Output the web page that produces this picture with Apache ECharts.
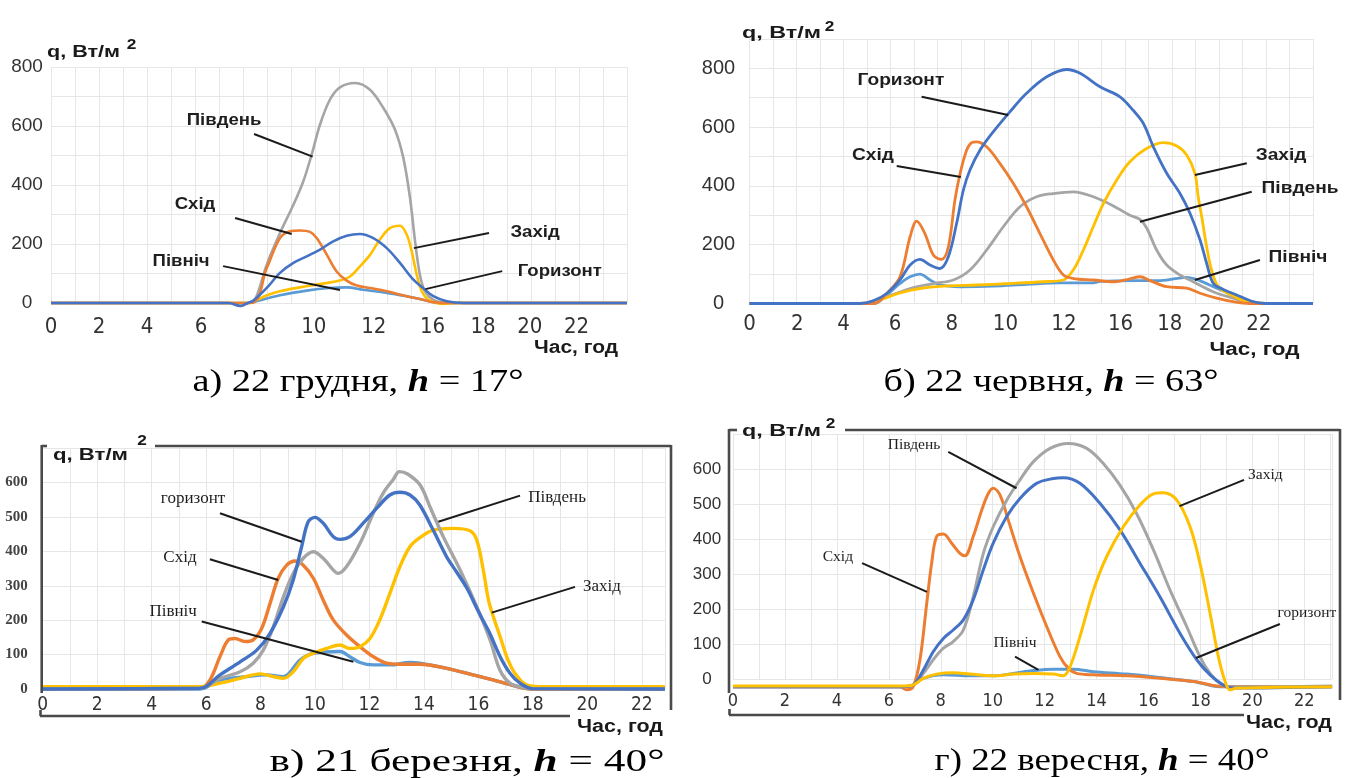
<!DOCTYPE html>
<html><head><meta charset="utf-8">
<script src="https://cdn.jsdelivr.net/npm/echarts@6/dist/echarts.min.js"></script>
<style>html,body{margin:0;padding:0;background:#fff}#c{width:1346px;height:778px}</style>
</head><body><div id="c"></div>
<script>
// ---------- tick labels ----------
const AB_X_LABELS = ['0','2','4','6','8','10','12','16','18','20','22'];
const A_X_LABEL_AT = [0,2,4,6.25,8.7,10.95,13.45,15.9,18,19.95,21.9];
const B_X_LABEL_AT = [0,2.04,4.01,6.2,8.62,10.9,13.39,15.8,17.9,19.68,21.69];

// ---------- a) 22 December ----------
const A_SOUTH = [[0,0],[7.4,0],[7.9,-10],[8.2,0],[8.5,11],[8.99,130],[9.54,237],[10.1,333],[10.51,412],[10.86,503],[11.21,605],[11.62,689],[12.04,731],[12.67,746],[13.29,723],[13.85,661],[14.33,588],[14.68,492],[14.96,356],[15.17,209],[15.37,96],[15.58,40],[15.93,11],[16.35,2],[17,0],[24,0]];
const A_EAST = [[0,0],[8.3,0],[8.99,119],[9.54,220],[9.96,243],[10.37,246],[10.79,241],[11.07,220],[11.49,164],[11.9,107],[12.32,76],[12.74,59],[13.29,51],[13.99,40],[14.82,23],[15.5,11],[15.93,3],[16.5,0],[24,0]];
const A_HORIZ = [[0,0],[7.4,0],[7.9,-10],[8.2,0],[8.43,8],[8.99,51],[9.54,102],[10.1,136],[10.65,158],[11.21,181],[11.76,209],[12.32,228],[12.87,234],[13.43,220],[13.99,186],[14.54,136],[15.1,79],[15.5,51],[15.93,23],[16.49,6],[17.2,0],[24,0]];
const A_WEST = [[0,0],[8.2,0],[8.43,5],[9.0,26],[9.54,40],[10.37,53],[11.2,64],[12.04,76],[12.46,90],[12.87,124],[13.3,164],[13.7,215],[14.12,254],[14.54,262],[14.82,232],[15.03,175],[15.24,96],[15.45,40],[15.72,11],[16.07,0],[16.35,-3],[16.8,0],[24,0]];
const A_NORTH = [[0,0],[8.2,0],[8.43,3],[9.54,26],[10.65,42],[11.6,51],[12.32,53],[13.0,45],[13.99,34],[14.82,23],[15.65,8],[16.2,0],[24,0]];
const A_NOTES = [['Південь',7.21,617],['Схід',6.0,332],['Північ',5.42,142],['Захід',20.17,237],['Горизонт',21.2,105]];
const A_LEADERS = [[[8.46,573],[10.9,496]],[[7.67,288],[10.03,234]],[[7.17,125],[12.04,44]],[[18.25,237],[15.12,186]],[[18.8,108],[15.6,47]]];

// ---------- b) 22 June ----------
const B_HORIZ = [[0,0],[4.7,0],[5.27,9],[5.84,34],[6.41,80],[6.84,131],[7.26,150],[7.69,131],[8.11,119],[8.47,159],[8.82,272],[9.11,386],[9.39,454],[9.82,522],[10.38,584],[11.09,652],[11.8,715],[12.66,771],[13.51,796],[14.08,783],[14.93,737],[15.78,703],[16.33,658],[16.77,613],[17.2,533],[17.77,443],[18.33,375],[18.76,307],[19.19,216],[19.47,137],[19.75,69],[20.18,48],[20.75,29],[21.46,6],[22,0],[24,0]];
const B_EAST = [[0,0],[5.3,0],[5.84,34],[6.41,91],[6.84,227],[7.12,280],[7.47,238],[7.83,165],[8.18,150],[8.47,193],[8.75,352],[8.97,442],[9.25,522],[9.46,547],[9.67,550],[10.1,533],[10.67,476],[11.24,408],[11.8,329],[12.37,238],[12.94,148],[13.37,97],[13.79,85],[14.64,80],[15.5,74],[16.0,80],[16.63,91],[17.06,78],[17.77,57],[18.62,52],[19.19,35],[19.9,18],[20.6,6],[21.3,0],[24,0]];
const B_SOUTH = [[0,0],[4.71,0],[5.84,23],[6.84,51],[7.83,68],[8.68,80],[9.39,114],[10.1,182],[10.81,261],[11.52,329],[12.23,363],[12.94,374],[13.79,380],[14.64,363],[15.5,332],[16.2,300],[16.63,286],[16.92,256],[17.34,182],[17.77,131],[18.33,97],[18.9,74],[19.75,40],[20.6,18],[21.3,3],[22,0],[24,0]];
const B_WEST = [[0,0],[4.71,0],[5.56,12],[6.41,36],[7.26,51],[8.26,59],[9.67,63],[11.09,68],[12.51,74],[13.37,80],[13.79,114],[14.22,182],[14.64,261],[15.07,340],[15.64,420],[16.2,482],[16.91,527],[17.62,547],[18.2,536],[18.62,505],[18.97,443],[19.11,363],[19.26,295],[19.47,193],[19.68,114],[19.97,57],[20.6,26],[21.18,6],[22,0],[24,0]];
const B_NORTH = [[0,0],[5.3,0],[5.84,29],[6.41,68],[6.84,91],[7.26,100],[7.69,80],[8.11,63],[8.97,57],[10.38,59],[11.8,65],[13.22,70],[14.64,70],[14.93,75],[16.33,78],[17.5,78],[18.62,89],[19.19,77],[19.9,52],[20.6,29],[21.3,8],[22,0],[24,0]];
const B_NOTES = [['Горизонт',6.45,757],['Схід',5.26,505],['Захід',22.64,505],['Південь',23.45,393],['Північ',23.36,158]];
const B_LEADERS = [[[7.33,703],[11.02,641]],[[6.27,468],[9.0,430]],[[21.18,477],[18.97,437]],[[21.39,380],[16.63,278]],[[21.74,148],[18.97,80]]];

// ---------- c) 21 March ----------
const C_HORIZ = [[0,0],[5.78,2],[6.51,41],[7.25,79],[7.86,113],[8.35,162],[8.84,239],[9.2,317],[9.51,414],[9.75,486],[10.0,499],[10.3,482],[10.67,443],[10.92,435],[11.28,443],[11.77,482],[12.26,525],[12.75,564],[13.12,572],[13.49,564],[13.85,535],[14.34,462],[14.83,385],[15.2,340],[15.6,290],[16.0,225],[16.4,165],[16.8,94],[17.16,46],[17.53,17],[18.0,1],[22.85,0]];
const C_SOUTH = [[0,0],[5.78,2],[6.51,31],[7.25,50],[7.73,75],[8.1,113],[8.47,181],[8.84,268],[9.2,336],[9.57,380],[9.94,399],[10.3,380],[10.67,346],[10.85,336],[11.16,356],[11.65,423],[12.14,511],[12.5,569],[12.88,610],[13.1,632],[13.4,625],[13.86,593],[14.22,530],[14.71,443],[15.33,346],[15.94,239],[16.43,143],[16.79,55],[17.16,17],[17.65,5],[18,1],[22.85,0]];
const C_EAST = [[0,0],[5.78,2],[6.14,26],[6.51,94],[6.82,143],[7.06,147],[7.43,138],[7.73,143],[8.04,176],[8.35,249],[8.65,322],[8.96,360],[9.26,372],[9.57,360],[9.94,322],[10.3,259],[10.67,201],[11.16,157],[11.65,123],[12.14,94],[12.63,75],[13.12,72],[13.85,72],[14.84,60],[15.8,41],[16.8,21],[17.53,5],[17.9,0],[22.85,0]];
const C_WEST = [[0,7],[5.78,7],[6.51,17],[7.25,31],[7.98,44],[8.47,36],[8.84,31],[9.2,50],[9.57,89],[9.94,104],[10.43,118],[10.92,128],[11.28,118],[11.65,123],[12.02,147],[12.38,201],[12.75,278],[13.12,356],[13.49,414],[13.85,440],[14.34,462],[15.08,467],[15.69,460],[15.94,433],[16.18,346],[16.37,259],[16.55,210],[16.8,152],[17.04,94],[17.34,46],[17.77,12],[18.26,7],[22.85,7]];
const C_NORTH = [[0,0],[5.78,0],[6.51,26],[7.49,36],[8.22,41],[8.84,36],[9.45,84],[9.94,104],[10.92,109],[11.28,94],[11.65,77],[12.14,70],[12.75,70],[13.49,77],[13.85,75],[14.84,60],[15.8,41],[16.8,21],[17.53,5],[18,0],[22.85,0]];
const C_NOTES = [['горизонт',5.52,555],['Схід',5.04,381],['Північ',4.79,224],['Південь',18.89,558],['Захід',20.54,297]];
const C_LEADERS = [[[6.51,511],[9.51,428]],[[6.14,377],[8.65,317]],[[5.84,196],[11.41,79]],[[17.53,562],[14.53,486]],[[19.55,297],[16.49,222]]];

// ---------- d) 22 September ----------
const D_SOUTH = [[0,-22],[6.5,-22],[6.94,-17],[7.33,16],[7.71,55],[8.1,88],[8.48,107],[8.87,140],[9.25,235],[9.64,359],[10.02,435],[10.54,511],[11.05,569],[11.57,621],[12.21,659],[12.91,673],[13.62,659],[14.26,616],[14.9,554],[15.54,473],[16.19,369],[16.83,254],[17.47,150],[17.98,64],[18.37,16],[18.75,-12],[19.14,-23],[23.07,-20]];
const D_HORIZ = [[0,-22],[6.5,-22],[6.94,-17],[7.33,26],[7.71,78],[8.1,116],[8.48,140],[8.87,169],[9.25,226],[9.64,312],[10.02,388],[10.54,464],[11.05,516],[11.69,559],[12.34,573],[12.72,575],[13.36,559],[14.13,502],[14.9,426],[15.67,331],[16.44,235],[17.21,131],[17.86,55],[18.37,12],[18.88,-17],[19.27,-26],[23.07,-22]];
const D_EAST = [[0,-22],[6.43,-22],[6.69,-31],[6.94,-22],[7.2,55],[7.46,216],[7.65,331],[7.84,407],[8.1,414],[8.42,388],[8.74,359],[8.93,352],[9.25,407],[9.58,483],[9.83,530],[10.02,545],[10.28,526],[10.6,454],[11.05,350],[11.57,245],[12.08,150],[12.59,64],[12.91,31],[13.23,16],[13.88,12],[15.16,9],[16.44,2],[17.73,-7],[18.63,-20],[19.2,-22],[23.07,-22]];
const D_WEST = [[0,-20],[6.5,-20],[6.94,-17],[7.33,2],[7.84,14],[8.48,18],[9.13,14],[10.02,9],[10.79,14],[11.57,16],[12.34,14],[12.72,9],[12.98,35],[13.36,121],[13.88,254],[14.39,350],[15.03,435],[15.67,497],[16.19,529],[16.57,532],[17.09,511],[17.6,435],[17.98,331],[18.37,188],[18.69,64],[18.95,-7],[19.14,-31],[19.4,-26],[23.07,-22]];
const D_NORTH = [[0,-22],[6.5,-22],[6.94,-17],[7.33,2],[8.1,12],[9.13,9],[10.02,9],[10.79,16],[11.57,24],[12.34,28],[13.1,28],[13.88,21],[15.16,14],[16.44,4],[17.73,-7],[18.75,-22],[23.07,-22]];
const D_NOTES = [['Південь',6.97,669],['Захід',20.5,583],['Схід',4.04,349],['горизонт',22.1,189],['Північ',10.86,103]];
const D_LEADERS = [[[8.29,649],[10.92,545]],[[19.68,569],[17.19,494]],[[4.97,331],[7.47,249]],[[21.06,157],[17.83,60]],[[10.86,64],[11.76,26]]];

// ---------- texts ----------
const CAPTIONS = [['а) 22 грудня, ','17°'],['б) 22 червня, ','63°'],['в) 21 березня, ','40°'],['г) 22 вересня, ','40°']];
const Y_TITLE = 'q, Вт/м';
const X_TITLE = 'Час, год';

// ---------- styling / layout ----------
const COL = {east:'#ED7D31', south:'#A5A5A5', horiz:'#4472C4', west:'#FFC000', north:'#5B9BD5'};
const NARROW = "'Liberation Sans Narrow','Arial Narrow','DejaVu Sans Condensed',sans-serif";
const SANS = "'Liberation Sans',Arial,sans-serif";
const SERIF = "'Liberation Serif','Times New Roman',serif";
const GRIDS = [
  {left:51, top:67, width:576, height:236},
  {left:749.5, top:38.9, width:563.5, height:264.6},
  {left:42.7, top:448.2, width:622.2, height:240.8},
  {left:733, top:434, width:599.1, height:245}
];
const LW = [2.6, 2.8, 3.4, 3.0];

function labelFromPos(arr){
  return function(v){ for(let i=0;i<arr.length;i++){ if(Math.abs(arr[i]-v)<1e-6) return AB_X_LABELS[i]; } return ''; };
}
const split = {show:true, lineStyle:{color:'#e6e6e6', width:1}};
const xAxes = [
  {gridIndex:0, type:'value', min:0, max:24, interval:1, axisLine:{show:false}, axisTick:{show:false}, splitLine:split,
   axisLabel:{customValues:A_X_LABEL_AT, formatter:labelFromPos(A_X_LABEL_AT), fontFamily:NARROW, fontSize:22, color:'#333', margin:13}},
  {gridIndex:1, type:'value', min:0, max:24, interval:1, axisLine:{show:false}, axisTick:{show:false}, splitLine:split,
   axisLabel:{customValues:B_X_LABEL_AT, formatter:labelFromPos(B_X_LABEL_AT), fontFamily:NARROW, fontSize:22, color:'#333', margin:10}},
  {gridIndex:2, type:'value', min:0, max:22.85, interval:1, axisLine:{show:false}, axisTick:{show:false}, splitLine:split,
   axisLabel:{formatter:v=>(Math.abs(v%2)<1e-6 && v<=22)?String(v):'', fontFamily:NARROW, fontSize:19, color:'#333', margin:7, showMaxLabel:false}},
  {gridIndex:3, type:'value', min:0, max:23.07, interval:1, axisLine:{show:false}, axisTick:{show:false}, splitLine:split,
   axisLabel:{formatter:v=>(Math.abs(v%2)<1e-6 && v<=22)?String(v):'', fontFamily:NARROW, fontSize:18, color:'#333', margin:13, showMaxLabel:false}}
];
const yAxes = [
  {gridIndex:0, type:'value', min:0, max:800, interval:100, axisLine:{show:false}, axisTick:{show:false}, splitLine:split,
   axisLabel:{formatter:v=>v%200===0?String(v):'', fontFamily:SANS, fontSize:19, color:'#333', align:'center', margin:24}},
  {gridIndex:1, type:'value', min:0, max:900, interval:100, axisLine:{show:false}, axisTick:{show:false}, splitLine:split,
   axisLabel:{formatter:v=>(v%200===0&&v<=800)?String(v):'', fontFamily:SANS, fontSize:20, color:'#333', align:'center', margin:31}},
  {gridIndex:2, type:'value', min:0, max:700, interval:100, axisLine:{show:false}, axisTick:{show:false}, splitLine:split,
   axisLabel:{formatter:v=>v<=600?String(v):'', fontFamily:SERIF, fontSize:15, fontWeight:'bold', color:'#444', align:'right', margin:15}},
  {gridIndex:3, type:'value', min:0, max:700, interval:100, axisLine:{show:false}, axisTick:{show:false}, splitLine:split,
   axisLabel:{formatter:v=>v<=600?String(v):'', fontFamily:SANS, fontSize:17, color:'#333', align:'center', margin:26}}
];

function line(g, data, color){
  return {type:'line', xAxisIndex:g, yAxisIndex:g, data:data, smooth:0.35, symbol:'none', showSymbol:false, clip:false,
          lineStyle:{color:color, width:LW[g]}, itemStyle:{color:color}, silent:true, z:2};
}
function leaders(g, segs){
  return {type:'lines', coordinateSystem:'cartesian2d', xAxisIndex:g, yAxisIndex:g, silent:true, z:5,
          lineStyle:{color:'#1b1b1b', width:2, opacity:1}, data:segs.map(s=>({coords:s}))};
}
const SETS = [
  [A_NORTH,A_SOUTH,A_WEST,A_EAST,A_HORIZ],
  [B_NORTH,B_SOUTH,B_WEST,B_EAST,B_HORIZ],
  [C_NORTH,C_EAST,C_WEST,C_SOUTH,C_HORIZ],
  [D_NORTH,D_EAST,D_SOUTH,D_HORIZ,D_WEST]
];
const SETCOL = [
  [COL.north,COL.south,COL.west,COL.east,COL.horiz],
  [COL.north,COL.south,COL.west,COL.east,COL.horiz],
  [COL.north,COL.east,COL.west,COL.south,COL.horiz],
  [COL.north,COL.east,COL.south,COL.horiz,COL.west]
];
const series = [];
SETS.forEach((set,g)=>set.forEach((d,i)=>series.push(line(g,d,SETCOL[g][i]))));
[A_LEADERS,B_LEADERS,C_LEADERS,D_LEADERS].forEach((L,g)=>series.push(leaders(g,L)));

const chart = echarts.init(document.getElementById('c'));
chart.setOption({animation:false, backgroundColor:'#fff', grid:GRIDS, xAxis:xAxes, yAxis:yAxes, series:series});

// ---------- graphic texts and frames ----------
const ctx = document.createElement('canvas').getContext('2d');
function meas(text, font){ ctx.font = font; return ctx.measureText(text).width; }
const G = [];
function txt(text, x, y, font, opts){
  opts = opts || {};
  let sx = 1;
  if (opts.w) sx = opts.w / meas(text, font);
  if (opts.sx) sx = opts.sx;
  G.push({type:'text', x:x, y:y, scaleX:sx, z:20, silent:true,
          style:{text:text, font:font, fill:opts.fill||'#1a1a1a', textAlign:opts.align||'center', textVerticalAlign:'middle'}});
}
function seg(x1,y1,x2,y2,c,w){ G.push({type:'line', z:15, silent:true, shape:{x1:x1,y1:y1,x2:x2,y2:y2}, style:{stroke:c||'#4a4a4a', lineWidth:w||2.6}}); }

// annotation labels in data coordinates
const NOTES = [A_NOTES,B_NOTES,C_NOTES,D_NOTES];
const NOTEFONT = ['bold 16px '+SANS, 'bold 16.5px '+SANS, '17px '+SERIF, '15.5px '+SERIF];
const NOTESX = [1.16, 1.16, 1.0, 1.0];
NOTES.forEach((arr,g)=>arr.forEach(n=>{
  const p = chart.convertToPixel({gridIndex:g}, [n[1], n[2]]);
  txt(n[0], p[0], p[1], NOTEFONT[g], {sx:NOTESX[g], fill:'#1e1e1e'});
}));

// axis titles
const YT = [[83.5,52,73,131.5,45],[781.5,33,79,829.5,27],[90.5,455,75,142,441],[781.5,431,79,830.5,424]];
YT.forEach(t=>{ txt(Y_TITLE, t[0], t[1], 'bold 17px '+SANS, {w:t[2]}); txt('2', t[3], t[4], 'bold 15px '+SANS, {sx:1.15}); });
const XT = [[576,348,84],[1254.5,350,90],[620,727,86],[1289,723,86]];
XT.forEach(t=>txt(X_TITLE, t[0], t[1], 'bold 18px '+SANS, {w:t[2]}));

// captions: three pieces (normal, italic h, normal), stretched to the reference width
const CAP = [[358,383,331],[1051,383,335],[467,763,395],[1102,762,335]];
const CAP_FS = 31;
CAPTIONS.forEach((c,i)=>{
  const fN = CAP_FS+'px '+SERIF, fI = 'italic bold '+CAP_FS+'px '+SERIF;
  const p0 = c[0], p1 = 'h', p2 = ' = '+c[1];
  const w0 = meas(p0,fN), w1 = meas(p1,fI), w2 = meas(p2,fN);
  const sx = CAP[i][2]/(w0+w1+w2);
  let x = CAP[i][0] - CAP[i][2]/2;
  txt(p0, x, CAP[i][1], fN, {sx:sx, align:'left', fill:'#000'}); x += w0*sx;
  txt(p1, x, CAP[i][1], fI, {sx:sx, align:'left', fill:'#000'}); x += w1*sx;
  txt(p2, x, CAP[i][1], fN, {sx:sx, align:'left', fill:'#000'});
});

// frames of the lower charts
seg(41.7,446,47,446); seg(155,446,671,446); seg(41.7,445,41.7,693); seg(671,445,671,710);
seg(40,716,570,716); seg(40.5,716,40.5,710);
seg(729,430,737,430); seg(845,430,1340,430); seg(729,429,729,693); seg(1340,429,1340,700);
seg(729,715,1244,715); seg(729.5,715,729.5,709);

chart.setOption({graphic:G});
</script></body></html>
